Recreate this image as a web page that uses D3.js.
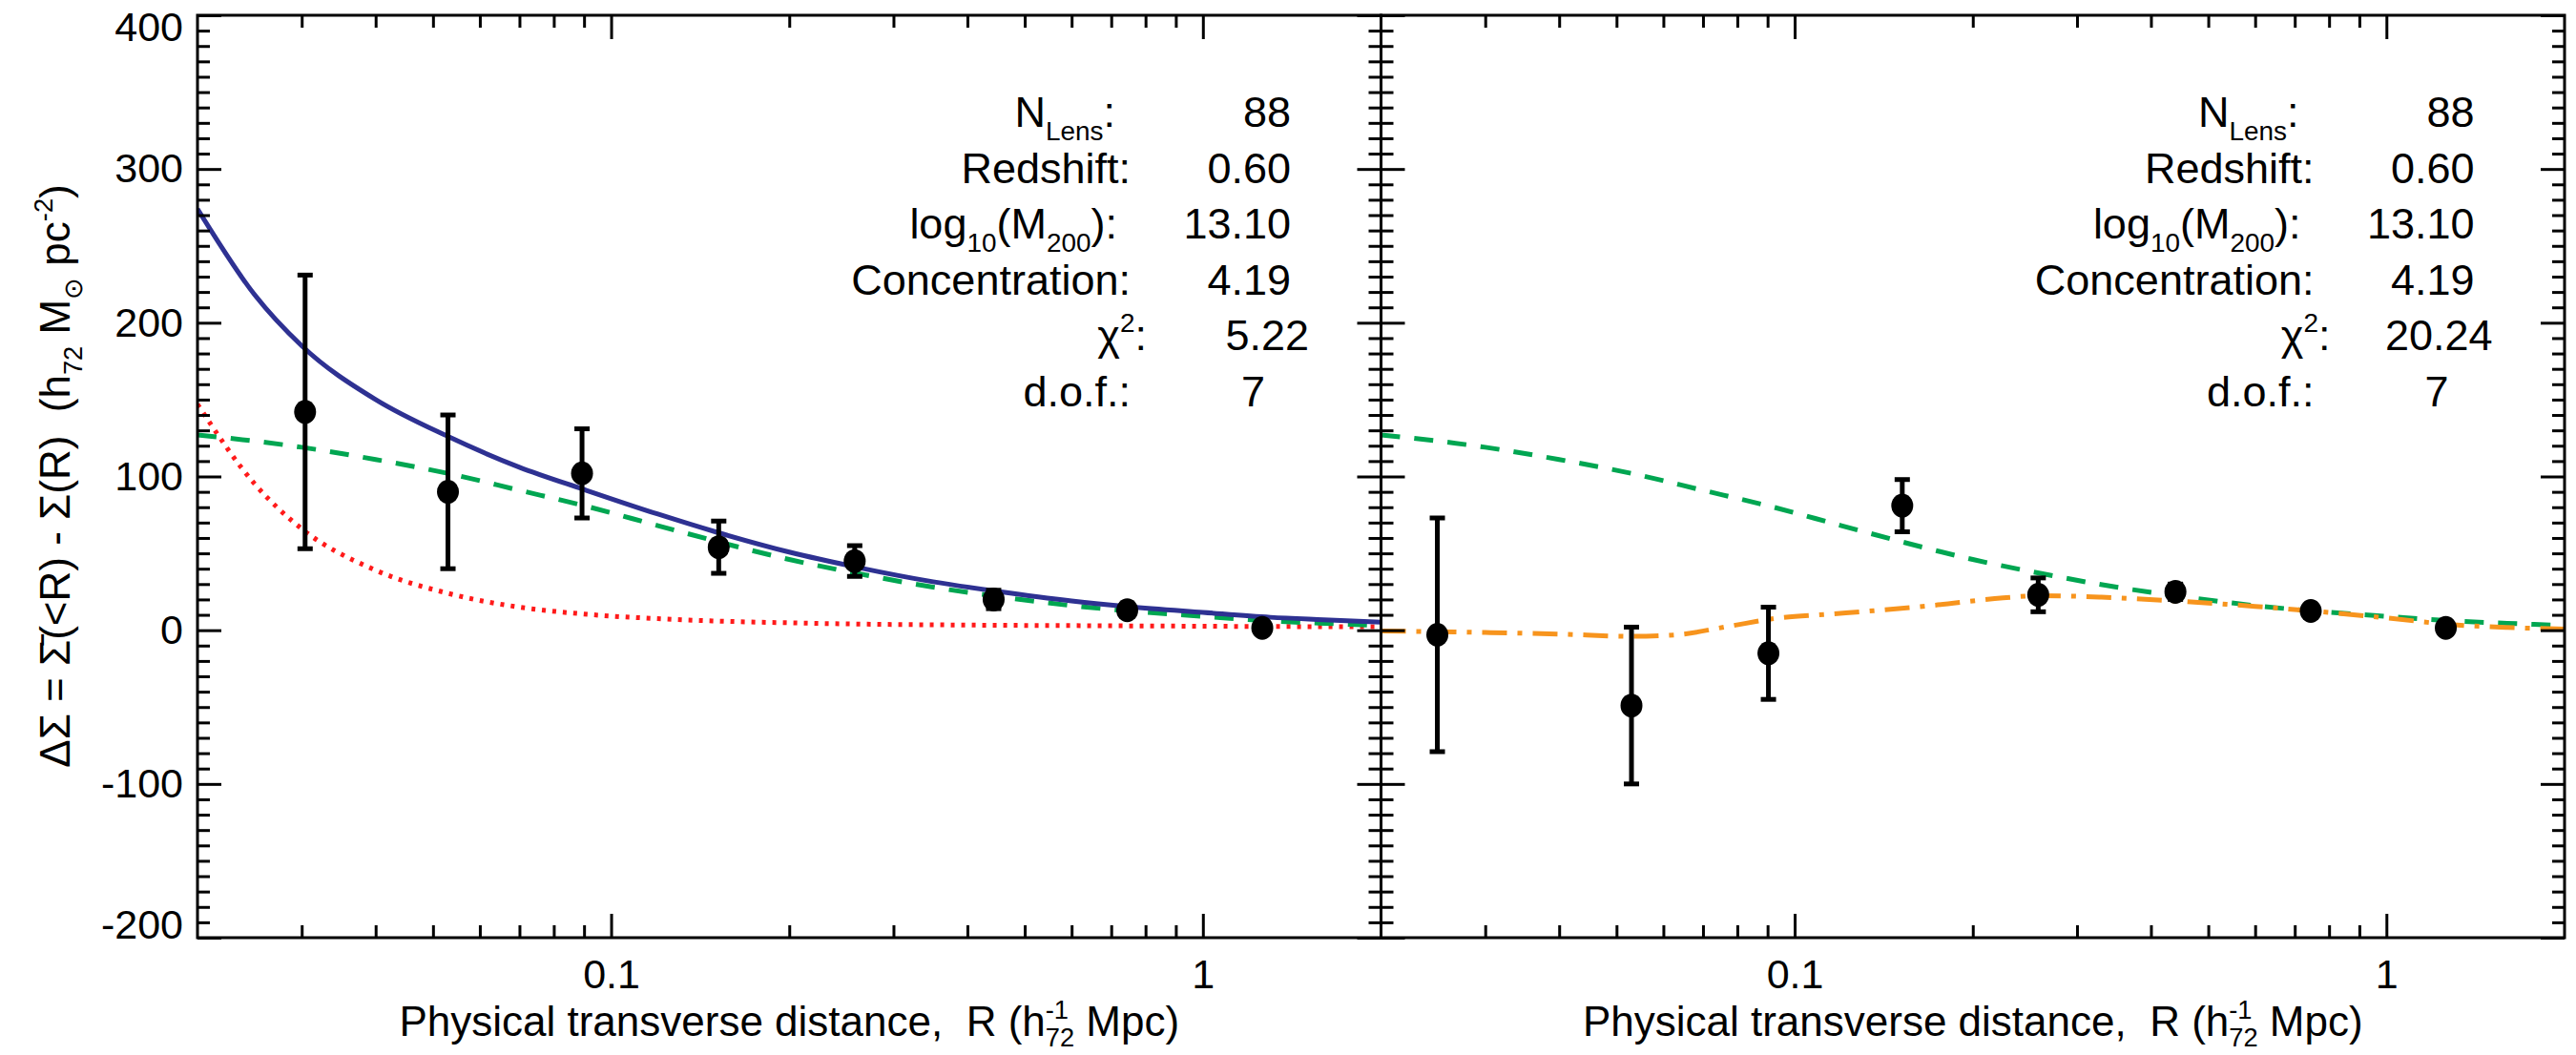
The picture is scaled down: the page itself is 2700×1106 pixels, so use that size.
<!DOCTYPE html>
<html>
<head>
<meta charset="utf-8">
<script src="https://cdn.jsdelivr.net/npm/d3@7"></script>
<style>
body { margin: 0; background: #fff; }
text { font-family: "Liberation Sans", Arial, Helvetica, sans-serif; fill: #000; white-space: pre; }
</style>
</head>
<body>
<div id="chart"></div>
<script>
'use strict';

// ---- data ----
var leftR    = [0.0304, 0.0530, 0.0893, 0.152, 0.258, 0.443, 0.745, 1.26];
var leftDS   = [142, 90, 102, 54, 45, 20, 13, 1.5];
var leftErr  = [89, 50, 29, 17, 10, 6, 4, 3];

var rightR   = [0.0249, 0.0530, 0.0903, 0.152, 0.258, 0.440, 0.745, 1.26];
var rightDS  = [-3, -49, -15, 81, 23, 25, 12.5, 1.5];
var rightErr = [76, 51, 30, 17, 11, 5, 3, 3];

// model curves
var modelR     = [0.02, 0.025, 0.03, 0.04, 0.053, 0.07, 0.09, 0.12, 0.15, 0.2, 0.26, 0.35, 0.45, 0.6, 0.75, 1.0, 1.3, 1.6, 2.0];
var totalModel = [274, 218, 185, 150, 126, 106, 91.5, 75.5, 64, 50.8, 41, 31.5, 25.2, 19, 15.3, 11.6, 8.4, 6.8, 5.2];
var haloModel  = [127, 123, 119, 111, 102, 91, 81, 68, 58, 46, 37, 28, 22, 16, 12.5, 9, 6, 4.5, 3];
var pointModel = [147, 95, 66, 39, 24, 15, 10.5, 7.5, 6, 4.8, 4, 3.5, 3.2, 3, 2.8, 2.6, 2.4, 2.3, 2.2];

var altR     = [0.02, 0.03, 0.04, 0.053, 0.063, 0.077, 0.093, 0.115, 0.136, 0.17, 0.225, 0.26, 0.33, 0.44, 0.6, 0.75, 1.0, 1.3, 1.6, 2.0];
var altModel = [-0.5, -1.5, -2.5, -4, -3, 2.4, 7.7, 10.5, 12.7, 16, 21, 22.5, 21.5, 19, 15.5, 12.5, 8, 3.5, 1.8, 0.8];

// ticks
var xDomain = [0.02, 2];
var yDomain = [-200, 400];
var xMajor = [0.1, 1];
var xMinor = [0.03, 0.04, 0.05, 0.06, 0.07, 0.08, 0.09, 0.2, 0.3, 0.4, 0.5, 0.6, 0.7, 0.8, 0.9];
var yMajor = [-200, -100, 0, 100, 200, 300, 400];
var yMinor = d3.range(-190, 400, 10).filter(function (v) { return v % 100 !== 0; });

// annotation text
var statLabels = [
    [{t: 'N'}, {t: 'Lens', k: 'sub'}, {t: ':'}],
    [{t: 'Redshift:'}],
    [{t: 'log'}, {t: '10', k: 'sub'}, {t: '(M'}, {t: '200', k: 'sub'}, {t: '):'}],
    [{t: 'Concentration:'}],
    [{t: '\u03C7'}, {t: '2', k: 'sup'}, {t: ':'}],
    [{t: 'd.o.f.:'}]
];
var leftStats  = ['88', '0.60', '13.10', '4.19', '5.22', '7'];
var rightStats = ['88', '0.60', '13.10', '4.19', '20.24', '7'];

var xTitle = [{t: 'Physical transverse distance,  R (h'}, {k: 'stack', sup: '-1', sub: '72'}, {t: ' Mpc)'}];
var yTitle = [{t: '\u0394\u03A3 = \u03A3\u0304(<R) - \u03A3(R)  (h'}, {t: '72', k: 'sub'}, {t: ' M'}, {t: '\u2299', k: 'sub'}, {t: ' pc'}, {t: '-2', k: 'sup'}, {t: ')'}];

// ---- layout ----
var W = 2700, H = 1106;
var plotTop = 16, plotBottom = 983;
var panelW = 1240.5;
var panels = [207, 207 + panelW];
var fs = 45;
var tickFs = 43;
var lw = 3;

var labelEnd = [962, 978, 964, 978, 995, 978];
var valueEnd = [1146, 1146, 1146, 1146, 1165, 1119];
var rowBase = [133, 191.5, 250, 308.5, 367, 425.5];

var svg = d3.select('#chart').append('svg')
    .attr('width', W)
    .attr('height', H);

var x = d3.scaleLog().domain(xDomain).range([0, panelW]);
var y = d3.scaleLinear().domain(yDomain).range([plotBottom - plotTop, 0]);

function richText(sel, parts, size) {
    var shift = 0;
    parts.forEach(function (p) {
        if (p.k === 'stack') {
            var up = -0.42 * size, down = 0.26 * size;
            var s1 = sel.append('tspan').attr('font-size', size * 0.62).attr('dy', up - shift).text(p.sup);
            var w = s1.node().getComputedTextLength();
            sel.append('tspan').attr('font-size', size * 0.62).attr('dx', -w).attr('dy', down - up).text(p.sub);
            shift = down;
        } else {
            var target = p.k === 'sub' ? 0.3 * size : (p.k === 'sup' ? -0.42 * size : 0);
            var ts = sel.append('tspan').attr('dy', target - shift).text(p.t);
            if (p.k) ts.attr('font-size', size * 0.62);
            shift = target;
        }
    });
}

function drawAxes(g, showYLabels) {
    var ph = plotBottom - plotTop;
    // minor ticks
    g.append('g').attr('transform', 'translate(0,' + ph + ')')
        .call(d3.axisBottom(x).tickValues(xMinor).tickSize(-13).tickSizeOuter(0).tickFormat(''));
    g.append('g')
        .call(d3.axisTop(x).tickValues(xMinor).tickSize(-13).tickSizeOuter(0).tickFormat(''));
    g.append('g')
        .call(d3.axisLeft(y).tickValues(yMinor).tickSize(-13).tickSizeOuter(0).tickFormat(''));
    g.append('g').attr('transform', 'translate(' + panelW + ',0)')
        .call(d3.axisRight(y).tickValues(yMinor).tickSize(-13).tickSizeOuter(0).tickFormat(''));
    // major ticks
    g.append('g').attr('class', 'xlab').attr('transform', 'translate(0,' + ph + ')')
        .call(d3.axisBottom(x).tickValues(xMajor).tickSize(-25).tickSizeOuter(0).tickPadding(22)
            .tickFormat(function (d) { return d === 1 ? '1' : '0.1'; }));
    g.append('g')
        .call(d3.axisTop(x).tickValues(xMajor).tickSize(-25).tickSizeOuter(0).tickFormat(''));
    var ya = g.append('g').attr('class', 'ylab')
        .call(d3.axisLeft(y).tickValues(yMajor).tickSize(-25).tickSizeOuter(0).tickPadding(15)
            .tickFormat(showYLabels ? function (d) { return String(d); } : ''));
    g.append('g').attr('transform', 'translate(' + panelW + ',0)')
        .call(d3.axisRight(y).tickValues(yMajor).tickSize(-25).tickSizeOuter(0).tickFormat(''));

    g.selectAll('.domain').remove();
    g.selectAll('.tick line').attr('stroke', '#000').attr('stroke-width', lw);
    g.selectAll('.tick text').attr('font-size', tickFs).attr('font-family', null).attr('fill', '#000');
    // keep the end labels inside the frame
    ya.selectAll('.tick text').attr('dy', function (d) {
        if (d === 400) return '0.62em';
        if (d === -200) return '0.0em';
        return '0.32em';
    });

    g.append('rect')
        .attr('width', panelW).attr('height', ph)
        .attr('fill', 'none').attr('stroke', '#000').attr('stroke-width', lw);
}

function drawCurve(g, xs, ys, color, width, dash) {
    var pts = xs.map(function (r, i) { return [r, ys[i]]; });
    var line = d3.line()
        .x(function (d) { return x(d[0]); })
        .y(function (d) { return y(d[1]); })
        .curve(d3.curveMonotoneX);
    g.append('path')
        .attr('d', line(pts))
        .attr('fill', 'none')
        .attr('stroke', color)
        .attr('stroke-width', width)
        .attr('stroke-dasharray', dash || null);
}

function drawPoints(g, xs, ys, errs) {
    var data = xs.map(function (r, i) { return {r: r, v: ys[i], e: errs[i]}; });
    var pg = g.append('g').selectAll('g').data(data).enter().append('g');
    pg.append('line')
        .attr('x1', function (d) { return x(d.r); }).attr('x2', function (d) { return x(d.r); })
        .attr('y1', function (d) { return y(d.v - d.e); }).attr('y2', function (d) { return y(d.v + d.e); })
        .attr('stroke', '#000').attr('stroke-width', 5);
    [-1, 1].forEach(function (s) {
        pg.append('line')
            .attr('x1', function (d) { return x(d.r) - 8; }).attr('x2', function (d) { return x(d.r) + 8; })
            .attr('y1', function (d) { return y(d.v + s * d.e); }).attr('y2', function (d) { return y(d.v + s * d.e); })
            .attr('stroke', '#000').attr('stroke-width', 5);
    });
    pg.append('ellipse')
        .attr('cx', function (d) { return x(d.r); })
        .attr('cy', function (d) { return y(d.v); })
        .attr('rx', 11.5).attr('ry', 12.5)
        .attr('fill', '#000');
}

function drawStats(g, values) {
    statLabels.forEach(function (parts, i) {
        var t = g.append('text')
            .attr('x', labelEnd[i]).attr('y', rowBase[i] - plotTop)
            .attr('text-anchor', 'end').attr('font-size', fs);
        richText(t, parts, fs);
        g.append('text')
            .attr('x', valueEnd[i]).attr('y', rowBase[i] - plotTop)
            .attr('text-anchor', 'end').attr('font-size', fs)
            .text(values[i]);
    });
}

// squeeze a title along its length to a given span
function fitLength(t, len, cx, cy, angle) {
    var w = t.node().getBBox().width;
    var s = Math.min(1, len / w);
    t.attr('transform', 'translate(' + cx + ',' + cy + ') rotate(' + angle + ') scale(' + s + ',1)');
}

function drawXTitle(g) {
    var t = g.append('text')
        .attr('x', 0).attr('y', 0)
        .attr('text-anchor', 'middle').attr('font-size', 44);
    richText(t, xTitle, 44);
    fitLength(t, 852, panelW / 2, 1086 - plotTop, 0);
}

panels.forEach(function (px, k) {
    var g = svg.append('g').attr('transform', 'translate(' + px + ',' + plotTop + ')');
    var clipId = 'clip' + k;
    g.append('clipPath').attr('id', clipId)
        .append('rect').attr('width', panelW).attr('height', plotBottom - plotTop);
    var plot = g.append('g').attr('clip-path', 'url(#' + clipId + ')');

    if (k === 0) {
        drawCurve(plot, modelR, pointModel, '#ff1a1a', 5, '4,7');
        drawCurve(plot, modelR, haloModel, '#00a651', 5, '20,15');
        drawCurve(plot, modelR, totalModel, '#2e3192', 5);
        drawPoints(plot, leftR, leftDS, leftErr);
        drawStats(g, leftStats);
    } else {
        drawCurve(plot, modelR, haloModel, '#00a651', 5, '20,15');
        drawCurve(plot, altR, altModel, '#f7941d', 5, '26,11,5,11');
        drawPoints(plot, rightR, rightDS, rightErr);
        drawStats(g, rightStats);
    }
    drawAxes(g, k === 0);
    drawXTitle(g);
});

// y-axis title
var yt = svg.append('text')
    .attr('x', 0).attr('y', 0)
    .attr('text-anchor', 'middle')
    .attr('font-size', 44);
richText(yt, yTitle, 44);
fitLength(yt, 630, 73, 499, -90);
</script>
</body>
</html>
